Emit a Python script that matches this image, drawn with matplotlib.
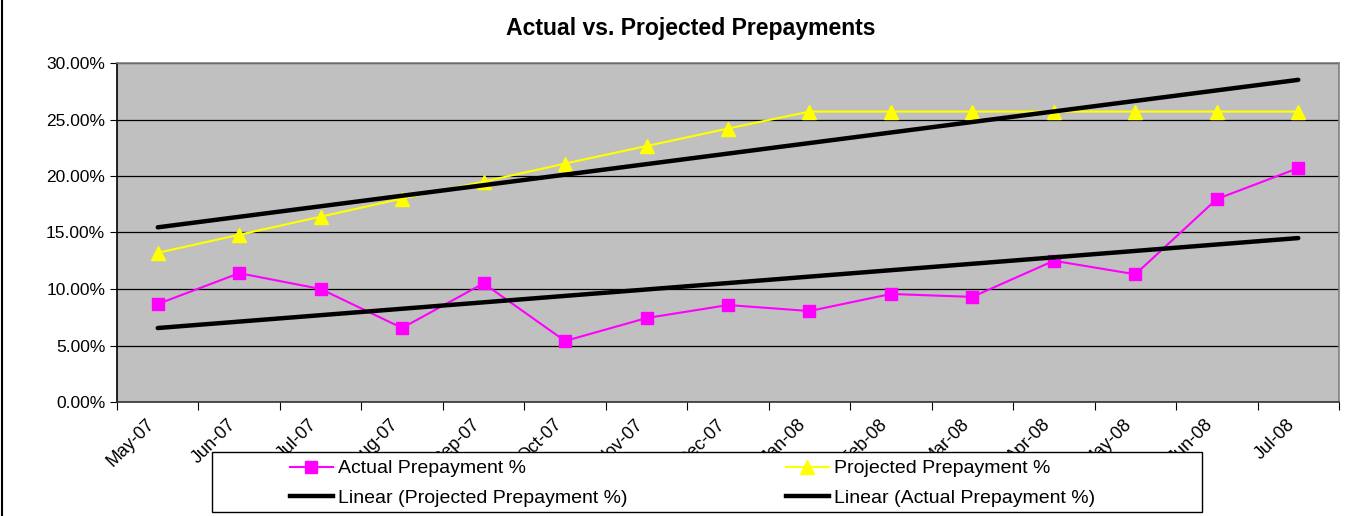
import numpy as np
import matplotlib.pyplot as plt
import matplotlib.transforms as mtransforms
from matplotlib.patches import Rectangle
from matplotlib.lines import Line2D

months = ['May-07', 'Jun-07', 'Jul-07', 'Aug-07', 'Sep-07', 'Oct-07', 'Nov-07', 'Dec-07',
          'Jan-08', 'Feb-08', 'Mar-08', 'Apr-08', 'May-08', 'Jun-08', 'Jul-08']
actual = [8.67, 11.4, 10.0, 6.55, 10.5, 5.4, 7.43, 8.58, 8.05, 9.56, 9.3, 12.5, 11.3, 17.96, 20.7]
projected = [13.2, 14.8, 16.4, 18.0, 19.5, 21.1, 22.65, 24.2, 25.7, 25.7, 25.7, 25.7, 25.7, 25.7, 25.7]

plt.rcParams['font.family'] = ['Liberation Sans', 'DejaVu Sans']

x = np.arange(len(months))
act = np.array(actual) / 100
proj = np.array(projected) / 100

# linear trendlines like excel
pa = np.polyfit(x, act, 1)
pp = np.polyfit(x, proj, 1)

fig = plt.figure(figsize=(13.72, 5.16), dpi=100)
ax = fig.add_axes([117 / 1372, 1 - 402 / 516, (1339 - 117) / 1372, (402 - 63) / 516])
ax.set_facecolor('#C0C0C0')

ax.plot(x, act, color='#FF00FF', lw=1.5, marker='s', ms=9, mec='#FF00FF', zorder=4)
ax.plot(x, proj, color='#FFFF00', lw=1.5, marker='^', ms=10, mec='#FFFF00', zorder=4)
ax.plot(x, np.polyval(pp, x), color='black', lw=3.2, solid_capstyle='round', zorder=5)
ax.plot(x, np.polyval(pa, x), color='black', lw=3.2, solid_capstyle='round', zorder=5)

ax.set_xlim(-0.5, len(months) - 0.5)
ax.set_ylim(0, 0.30)
ax.set_yticks(np.arange(0, 0.301, 0.05))
ax.set_yticklabels(['%.2f%%' % (v * 100) for v in np.arange(0, 0.301, 0.05)], fontsize=12.5)
ax.yaxis.grid(True, color='black', lw=0.9)
ax.set_axisbelow(True)

# category ticks between months, labels at centers
ax.set_xticks(np.arange(-0.5, len(months)), minor=False)
ax.set_xticklabels([])
ax.set_xticks(x, minor=True)
ax.set_xticklabels(months, minor=True, rotation=45, ha='right', va='top',
                   rotation_mode='anchor', fontsize=13)
ax.tick_params(axis='x', which='minor', length=0, pad=10)
ax.tick_params(axis='x', which='major', length=6, direction='out', color='black')
ax.tick_params(axis='y', length=5, direction='out', color='black')
shift = mtransforms.ScaledTranslation(-12 / 100, 0, fig.dpi_scale_trans)
for lbl in ax.get_xticklabels(minor=True):
    lbl.set_transform(lbl.get_transform() + shift)

ax.spines['left'].set_color('black')
ax.spines['bottom'].set_color('#333333')
ax.spines['top'].set_color('#808080')
ax.spines['right'].set_color('#808080')
for s in ax.spines.values():
    s.set_linewidth(1.2)

fig.suptitle('Actual vs. Projected Prepayments', x=691 / 1372, y=1 - 29 / 516, va='center',
             fontsize=16.6, fontweight='bold')

# legend box covers part of the tick labels
fig.patches.append(Rectangle((212 / 1372, 1 - 512 / 516), (1202 - 212) / 1372, (512 - 452) / 516,
                             transform=fig.transFigure, facecolor='white', edgecolor='black',
                             lw=1, zorder=5))
h_act = Line2D([], [], color='#FF00FF', lw=1.5, marker='s', ms=9)
h_proj = Line2D([], [], color='#FFFF00', lw=1.5, marker='^', ms=10)
h_trend = Line2D([], [], color='black', lw=3.2)
leg_kw = dict(frameon=False, fontsize=14, handlelength=2.2, handletextpad=0.25,
              labelspacing=0.62, borderpad=0, borderaxespad=0, loc='center left')
l1 = fig.legend([h_act, h_trend], ['Actual Prepayment %', 'Linear (Projected Prepayment %)'],
                bbox_to_anchor=(290 / 1372, 1 - 483.5 / 516), **leg_kw)
l2 = fig.legend([h_proj, h_trend], ['Projected Prepayment %', 'Linear (Actual Prepayment %)'],
                bbox_to_anchor=(786 / 1372, 1 - 483.5 / 516), **leg_kw)
l1.set_zorder(6)
l2.set_zorder(6)

# chart border on the left edge
fig.add_artist(Line2D([2 / 1372, 2 / 1372], [0, 1], color='black', lw=1.5, transform=fig.transFigure))

fig.savefig('out.png', dpi=100)
